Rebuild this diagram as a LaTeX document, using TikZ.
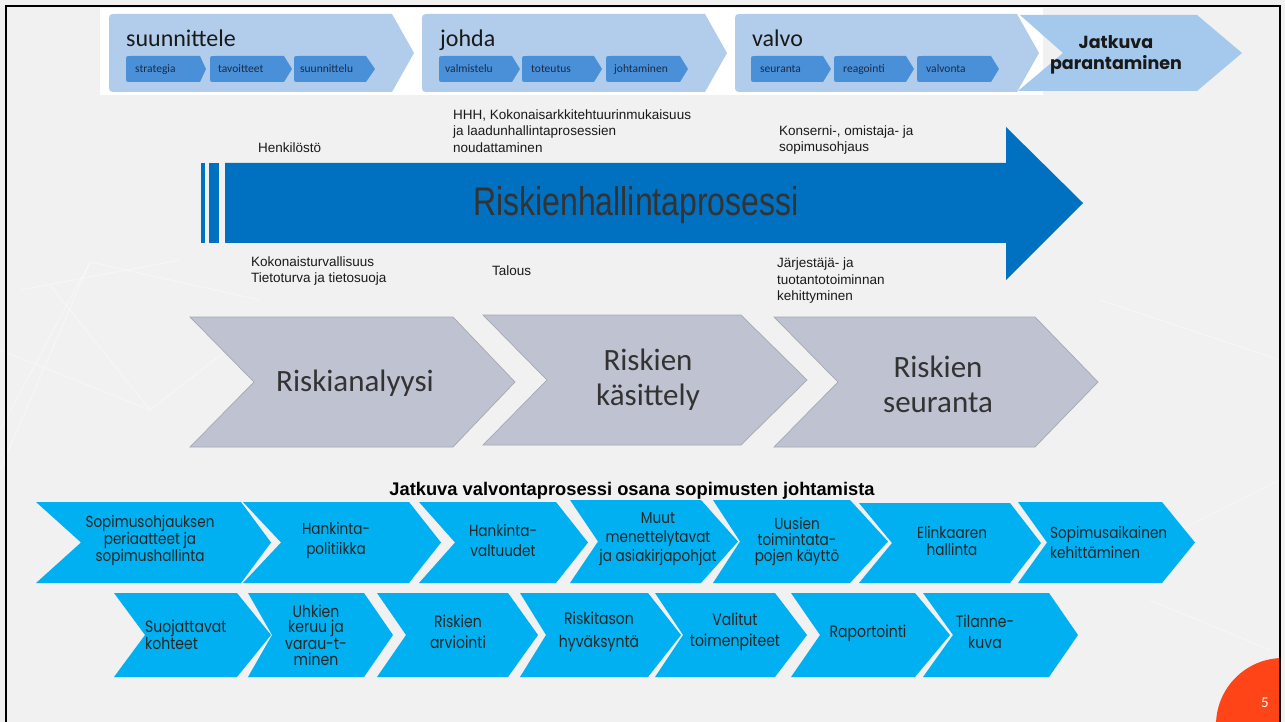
\documentclass[tikz,border=0pt]{standalone}
\usepackage{fontspec}
\setmainfont{Liberation Sans}
\newfontfamily\segoe{Carlito}
\newfontfamily\gothic{Poppins}[FakeStretch=0.85]
\newfontfamily\gothicB{Poppins}
\newfontfamily\narrowf{Liberation Sans}[FakeStretch=0.8]
\definecolor{bgc}{HTML}{F1F1F1}
\definecolor{blockc}{HTML}{B2CDEB}
\definecolor{jatc}{HTML}{A4C9EC}
\definecolor{subc}{HTML}{4A90D9}
\definecolor{subtext}{HTML}{1B2B45}
\definecolor{bigblue}{HTML}{0070C0}
\definecolor{greyc}{HTML}{BFC3D1}
\definecolor{greyline}{HTML}{A5A8B0}
\definecolor{cyanc}{HTML}{00B0F0}
\definecolor{orangec}{HTML}{FF4517}
% #1 style, #2 top-left x, #3 notch x, #4 top-right x, #5 tip x, #6 top y, #7 bottom y
\newcommand{\mkchev}[7]{\path[#1] (#2,#6) -- (#4,#6) -- (#5,{(#6+#7)/2}) -- (#4,#7) -- (#2,#7) -- (#3,{(#6+#7)/2}) -- cycle;}
% big top block: x1, top-right x, tip x
\newcommand{\mkblock}[3]{\fill[blockc] (#2,14) -- (#3,53) -- (#2,92) -- ({#1+8},92) .. controls (#1,92) .. (#1,84) -- (#1,22) .. controls (#1,14) .. ({#1+8},14) -- cycle;}
% small sub chevron: x1, top-right x, tip x
\newcommand{\mksub}[3]{\fill[subc] (#2,56) -- (#3,69) -- (#2,82) -- ({#1+5},82) .. controls (#1,82) .. (#1,77) -- (#1,61) .. controls (#1,56) .. ({#1+5},56) -- cycle;}
\begin{document}
\begin{tikzpicture}[x=1pt,y=-1pt,
  subtxt/.style={inner sep=0pt, anchor=base west, text=subtext, font=\segoe\fontsize{11.5}{12}\selectfont},
  bigtxt/.style={inner sep=0pt, anchor=base west, text=black!90, font=\segoe\fontsize{24}{24}\selectfont},
  lbl/.style={inner sep=0pt, anchor=west, align=left, text=black!90, font=\fontsize{13.5}{16.5}\selectfont},
  greych/.style={fill=greyc, draw=greyline, line width=0.7pt},
  gtxt/.style={inner sep=0pt, align=center, text=black!80, font=\segoe\fontsize{31}{35}\selectfont},
  cyanch/.style={fill=cyanc},
  ctxt/.style={inner sep=0pt, align=center, text=black!85},
  netline/.style={white, line width=1.2pt, opacity=0.35}
]
\useasboundingbox (0,0) rectangle (1285,722);
\fill[bgc] (0,0) rectangle (1285,722);
% faint network lines of the background
\draw[netline] (0,430) -- (90,262) -- (260,300);
\draw[netline] (0,470) -- (90,262);
\draw[netline] (20,290) -- (180,260);
\draw[netline] (50,285) -- (150,410) -- (240,340);
\draw[netline] (0,350) -- (150,410);
\draw[netline] (1120,560) -- (1280,480);
\draw[netline] (1150,600) -- (1270,650);
\draw[netline] (1100,300) -- (1280,360);
% page number
\begin{scope}
\clip (0,0) rectangle (1280,722);
\fill[orangec] (1283,725) circle[radius=67pt];
\end{scope}
\node[inner sep=0pt, text=white, font=\segoe\fontsize{15}{15}\selectfont] (pgnum) at (1265,703) {5};
\draw[black, line width=2pt] (6,722) -- (6,6) -- (1280,6) -- (1280,722);
% top strip
\fill[white] (100,8) rectangle (1043,95);
\mkblock{109}{392}{414}
\mkblock{422}{705}{727}
\mkblock{735}{1017}{1039}
\fill[jatc] (1020,15) -- (1197,15) -- (1242,53) -- (1197,91) -- (1018,91) -- (1063,53) -- cycle;
\node[inner sep=0pt, align=center, text=black!90, font=\gothicB\bfseries\fontsize{17.5}{21}\selectfont] (jat) at (1116,55) {Jatkuva\\parantaminen};
\node[bigtxt] (b1) at (126,47) {suunnittele};
\node[bigtxt] (b2) at (440,47) {johda};
\node[bigtxt] (b3) at (752,47) {valvo};
\mksub{126}{200}{206}
\mksub{210}{284}{292}
\mksub{294}{366}{375}
\mksub{439}{512}{520}
\mksub{522}{594}{602}
\mksub{606}{680}{688}
\mksub{751}{823}{831}
\mksub{834}{906}{914}
\mksub{917}{991}{999}
\node[subtxt] (s1) at (135,73) {strategia};
\node[subtxt] (s2) at (218,73) {tavoitteet};
\node[subtxt] (s3) at (300,73) {suunnittelu};
\node[subtxt] (s4) at (445,73) {valmistelu};
\node[subtxt] (s5) at (531,73) {toteutus};
\node[subtxt] (s6) at (614,73) {johtaminen};
\node[subtxt] (s7) at (760,73) {seuranta};
\node[subtxt] (s8) at (843,73) {reagointi};
\node[subtxt] (s9) at (926,73) {valvonta};
% big arrow
\fill[bigblue] (200.6,163) rectangle (204.7,243);
\fill[bigblue] (209.4,163) rectangle (218.8,243);
\fill[bigblue] (225,163) -- (1006,163) -- (1006,127) -- (1083,203) -- (1006,280) -- (1006,243) -- (225,243) -- cycle;
\node[inner sep=0pt, text=black!80, font=\narrowf\fontsize{40}{40}\selectfont] (rhp) at (636,205) {Riskienhallintaprosessi};
% labels round the arrow
\node[lbl] (henk) at (258,148) {Henkilöstö};
\node[lbl] (hhh) at (453,131) {HHH, Kokonaisarkkitehtuurinmukaisuus\\ja laadunhallintaprosessien\\noudattaminen};
\node[lbl] (kons) at (779,140) {Konserni-, omistaja- ja\\sopimusohjaus};
\node[lbl] (koko) at (251,271) {Kokonaisturvallisuus\\Tietoturva ja tietosuoja};
\node[lbl] (tal) at (492,271) {Talous};
\node[lbl] (jarj) at (777,281) {Järjestäjä- ja\\tuotantotoiminnan\\kehittyminen};
% grey chevrons
\mkchev{greych}{190}{254}{453}{515}{317}{447}
\mkchev{greych}{483}{547}{741}{807}{315}{445}
\mkchev{greych}{774}{838}{1035}{1098}{317}{447}
\node[gtxt] (ra) at (355,383) {Riskianalyysi};
\node[gtxt] (rk) at (648,380) {Riskien\\käsittely};
\node[gtxt] (rs) at (938,384) {Riskien\\seuranta};
% title
\node[inner sep=0pt, text=black, font=\bfseries\fontsize{18.3}{18}\selectfont] (title) at (632,491) {Jatkuva valvontaprosessi osana sopimusten johtamista};
% cyan row 1
\mkchev{cyanch}{36}{81}{241}{271}{502}{583}
\mkchev{cyanch}{243}{281}{409}{441}{502}{583}
\mkchev{cyanch}{419}{455}{556}{588}{502}{583}
\mkchev{cyanch}{570}{598}{701}{738}{500}{583}
\mkchev{cyanch}{713}{740}{850}{888}{500}{583}
\mkchev{cyanch}{859}{892}{1010}{1041}{503}{583}
\mkchev{cyanch}{1018}{1047}{1162}{1195}{502}{583}
\node[ctxt, font=\gothic\fontsize{16}{17}\selectfont] (c1t) at (150,540) {Sopimusohjauksen\\periaatteet ja\\sopimushallinta};
\node[ctxt, font=\gothic\fontsize{16}{20}\selectfont] (c2t) at (336,540) {Hankinta-\\politiikka};
\node[ctxt, font=\gothic\fontsize{16}{20}\selectfont] (c3t) at (503,540) {Hankinta-\\valtuudet};
\node[ctxt, font=\gothic\fontsize{16}{19}\selectfont] (c4t) at (658,539) {Muut\\menettelytavat\\ja asiakirjapohjat};
\node[ctxt, font=\gothic\fontsize{16}{16}\selectfont] (c5t) at (797,541) {Uusien\\toimintata-\\pojen käyttö};
\node[ctxt, font=\gothic\fontsize{16}{17}\selectfont] (c6t) at (952,541) {Elinkaaren\\hallinta};
\node[ctxt, font=\gothic\fontsize{16}{20}\selectfont, align=left, anchor=west] (c7t) at (1050,542) {Sopimusaikainen\\kehittäminen};
% cyan row 2
\mkchev{cyanch}{114}{145}{237}{271}{593}{677}
\mkchev{cyanch}{248}{272}{364}{393}{593}{677}
\mkchev{cyanch}{377}{406}{508}{538}{593}{677}
\mkchev{cyanch}{520}{546}{648}{681}{593}{677}
\mkchev{cyanch}{655}{683}{775}{807}{593}{677}
\mkchev{cyanch}{791}{820}{915}{950}{593}{677}
\mkchev{cyanch}{923}{953}{1049}{1078}{593}{677}
\node[ctxt, font=\gothic\fontsize{16.5}{16}\selectfont, align=left, anchor=west] (d1t) at (145,635) {Suojattavat\\kohteet};
\node[ctxt, font=\gothic\fontsize{16.5}{15.5}\selectfont] (d2t) at (316,635) {Uhkien\\keruu ja\\varau-t-\\minen};
\node[ctxt, font=\gothic\fontsize{16.5}{21}\selectfont] (d3t) at (458,632) {Riskien\\arviointi};
\node[ctxt, font=\gothic\fontsize{16.5}{23}\selectfont] (d4t) at (599,632) {Riskitason\\hyväksyntä};
\node[ctxt, font=\gothic\fontsize{16.5}{21}\selectfont] (d5t) at (735,632) {Valitut\\toimenpiteet};
\node[ctxt, font=\gothic\fontsize{16.5}{21}\selectfont] (d6t) at (868,633) {Raportointi};
\node[ctxt, font=\gothic\fontsize{16.5}{21}\selectfont] (d7t) at (985,632) {Tilanne-\\kuva};
\end{tikzpicture}
\end{document}
